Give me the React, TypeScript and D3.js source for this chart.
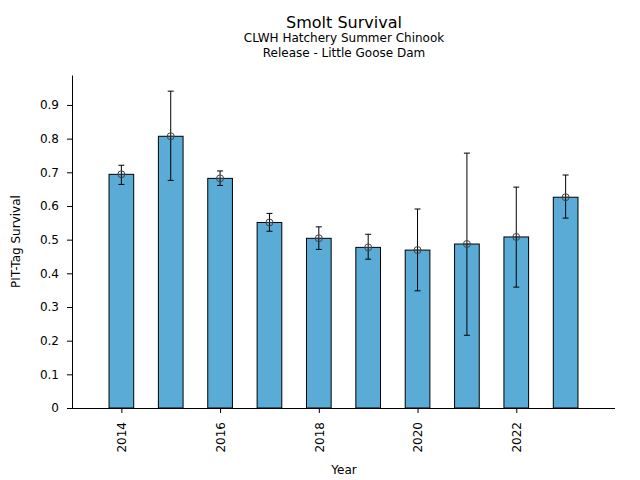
import React, { useRef, useEffect } from 'react';
import * as d3 from 'd3';

const years = [2014, 2015, 2016, 2017, 2018, 2019, 2020, 2021, 2022, 2023];
const survival = [0.694, 0.807, 0.682, 0.551, 0.504, 0.477, 0.469, 0.487, 0.508, 0.626];
const lower = [0.664, 0.676, 0.661, 0.525, 0.471, 0.442, 0.348, 0.216, 0.359, 0.564];
const upper = [0.721, 0.941, 0.704, 0.578, 0.538, 0.516, 0.591, 0.757, 0.656, 0.692];
const xTicks = [2014, 2016, 2018, 2020, 2022];
const yTicks = [0, 0.1, 0.2, 0.3, 0.4, 0.5, 0.6, 0.7, 0.8, 0.9];

const font = 'DejaVu Sans, sans-serif';

const SmoltChart: React.FC = () => {
  const svgRef = useRef<SVGSVGElement | null>(null);

  useEffect(() => {
    if (!svgRef.current) return;
    const width = 640;
    const height = 480;
    const m = { left: 72, right: 25, top: 75, bottom: 72 };

    const svg = d3.select<SVGSVGElement, unknown>(svgRef.current)
      .attr('width', width)
      .attr('height', height);
    svg.selectAll('*').remove();

    const x = d3.scaleLinear().domain([2013, 2024]).range([m.left, width - m.right]);
    const y = d3.scaleLinear().domain([0, 0.989]).range([height - m.bottom, m.top]);
    const barW = x(2014.5) - x(2014);

    const rows = years.map((yr, i) => ({ yr, v: survival[i], lo: lower[i], hi: upper[i] }));

    // bars
    svg.append('g').selectAll('rect')
      .data(rows)
      .enter().append('rect')
      .attr('x', (d) => x(d.yr) - barW / 2)
      .attr('y', (d) => y(d.v))
      .attr('width', barW)
      .attr('height', (d) => y(0) - y(d.v))
      .attr('fill', '#5aacd6')
      .attr('stroke', '#000')
      .attr('stroke-width', 1);

    // error bars + markers
    const err = svg.append('g').selectAll('g')
      .data(rows)
      .enter().append('g');
    err.append('line')
      .attr('x1', (d) => x(d.yr)).attr('x2', (d) => x(d.yr))
      .attr('y1', (d) => y(d.lo)).attr('y2', (d) => y(d.hi))
      .attr('stroke', '#000').attr('stroke-width', 1);
    err.append('line')
      .attr('x1', (d) => x(d.yr) - 3).attr('x2', (d) => x(d.yr) + 3)
      .attr('y1', (d) => y(d.lo)).attr('y2', (d) => y(d.lo))
      .attr('stroke', '#000').attr('stroke-width', 1);
    err.append('line')
      .attr('x1', (d) => x(d.yr) - 3).attr('x2', (d) => x(d.yr) + 3)
      .attr('y1', (d) => y(d.hi)).attr('y2', (d) => y(d.hi))
      .attr('stroke', '#000').attr('stroke-width', 1);
    err.append('line')
      .attr('x1', (d) => x(d.yr) - 3.5).attr('x2', (d) => x(d.yr) + 3.5)
      .attr('y1', (d) => y(d.v)).attr('y2', (d) => y(d.v))
      .attr('stroke', '#444').attr('stroke-width', 0.8);
    err.append('circle')
      .attr('cx', (d) => x(d.yr))
      .attr('cy', (d) => y(d.v))
      .attr('r', 3.5)
      .attr('fill', 'none')
      .attr('stroke', '#444')
      .attr('stroke-width', 1);

    // axes
    const xAxis = svg.append('g')
      .attr('transform', `translate(0,${y(0)})`)
      .call(d3.axisBottom(x).tickValues(xTicks).tickFormat(d3.format('d')).tickSize(5).tickSizeOuter(0));
    xAxis.select('.domain').attr('d', `M${m.left},0.5H${width - m.right}`);
    xAxis.selectAll('text')
      .attr('transform', 'rotate(-90)')
      .attr('text-anchor', 'end')
      .attr('x', -14)
      .attr('y', 0)
      .attr('dy', '0.35em')
      .style('font-family', font)
      .style('font-size', '12px')
      .attr('fill', '#000');

    const yAxis = svg.append('g')
      .attr('transform', `translate(${m.left},0)`)
      .call(d3.axisLeft(y).tickValues(yTicks).tickFormat((d) => (d === 0 ? '0' : d3.format('.1f')(d as number))).tickSize(5).tickSizeOuter(0));
    yAxis.selectAll('text')
      .attr('x', -13)
      .style('font-family', font)
      .style('font-size', '12px')
      .attr('fill', '#000');

    svg.selectAll('.domain, .tick line').attr('stroke', '#000');

    // labels
    svg.append('text')
      .attr('x', 344).attr('y', 474)
      .attr('text-anchor', 'middle')
      .style('font-family', font).style('font-size', '12px')
      .text('Year');
    svg.append('text')
      .attr('transform', `translate(20,${(m.top + y(0)) / 2}) rotate(-90)`)
      .attr('text-anchor', 'middle')
      .style('font-family', font).style('font-size', '12px')
      .text('PIT-Tag Survival');

    svg.append('text')
      .attr('x', 344).attr('y', 28)
      .attr('text-anchor', 'middle')
      .style('font-family', font).style('font-size', '16px')
      .text('Smolt Survival');
    svg.append('text')
      .attr('x', 344).attr('y', 42)
      .attr('text-anchor', 'middle')
      .style('font-family', font).style('font-size', '12px')
      .text('CLWH Hatchery Summer Chinook');
    svg.append('text')
      .attr('x', 344).attr('y', 57)
      .attr('text-anchor', 'middle')
      .style('font-family', font).style('font-size', '12px')
      .text('Release - Little Goose Dam');
  }, []);

  return <svg ref={svgRef} style={{ position: 'absolute', left: 0, top: 0 }}></svg>;
};

export default function App() {
  return <SmoltChart />;
}
